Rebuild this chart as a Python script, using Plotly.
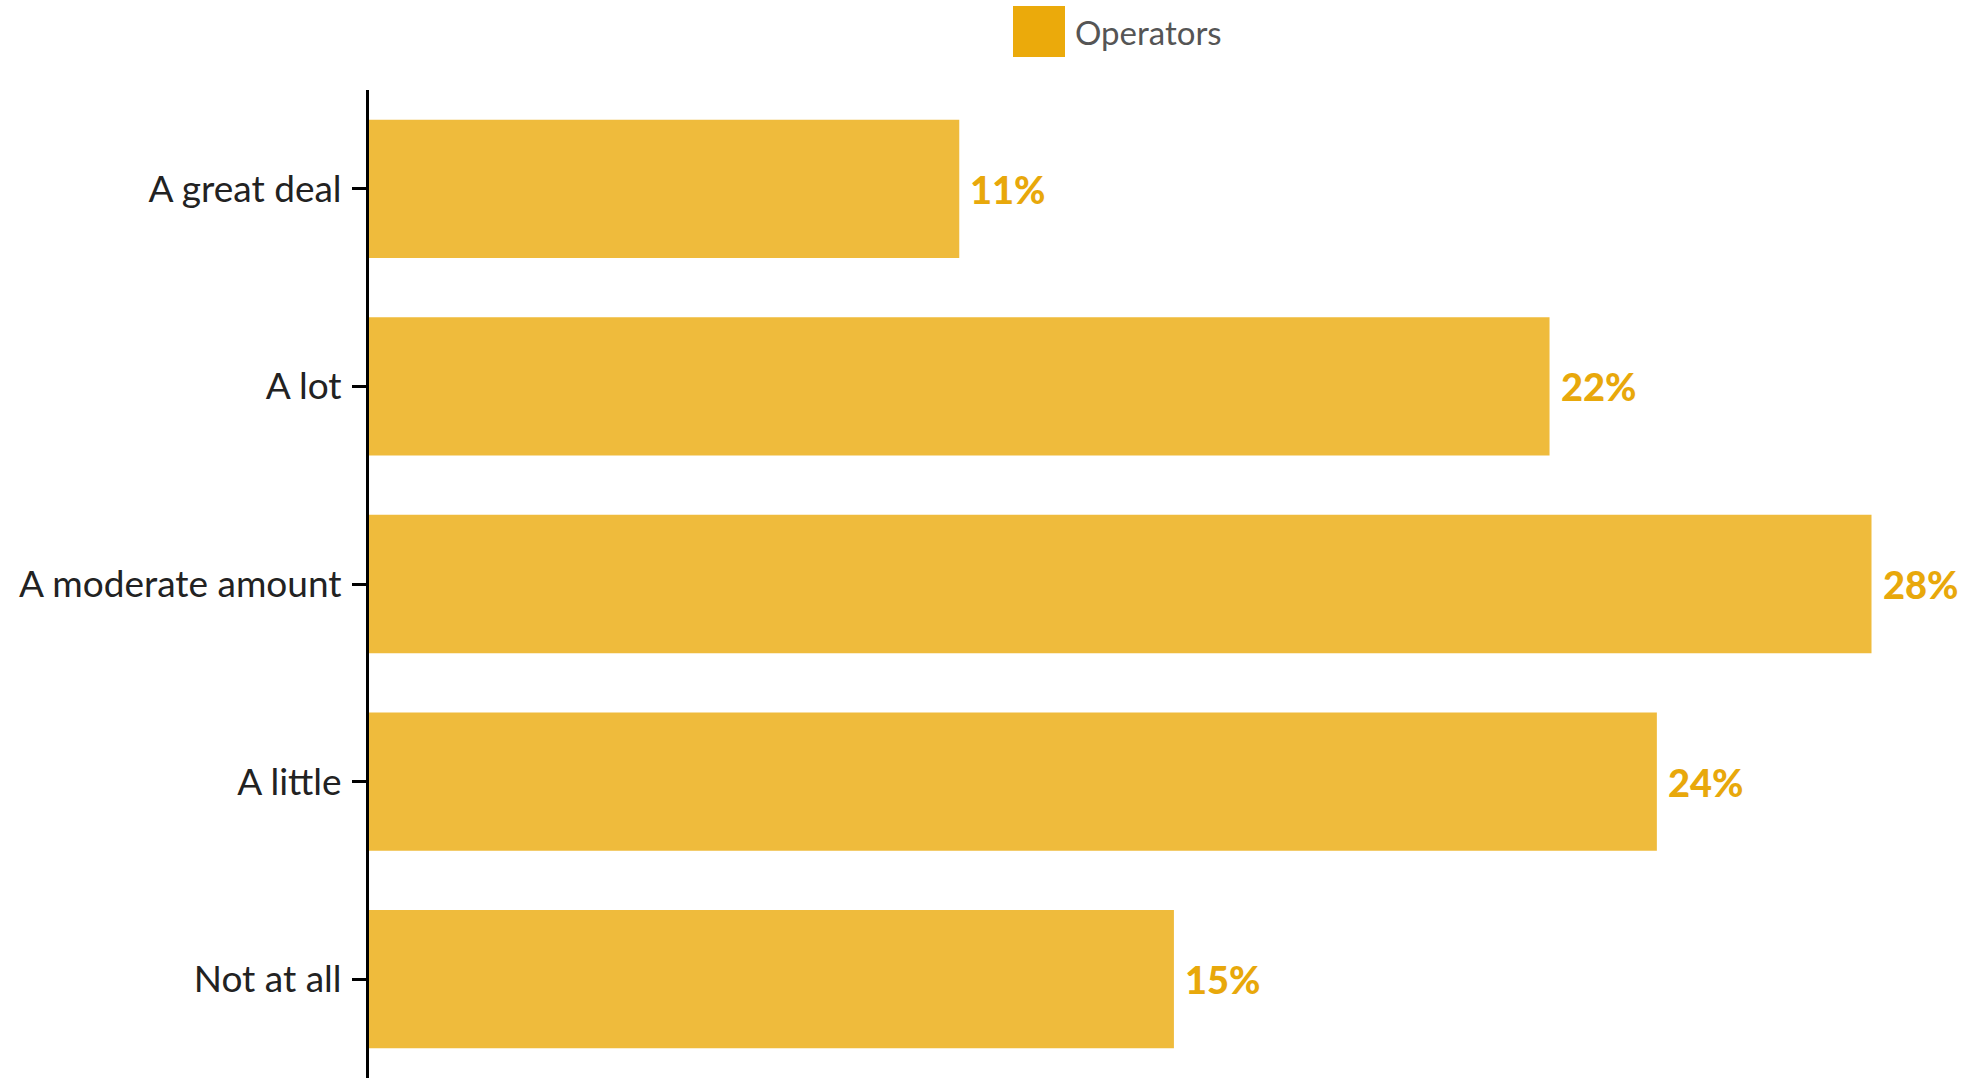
import plotly.graph_objects as go

# Survey responses for the operator group
categories = ["A great deal", "A lot", "A moderate amount", "A little", "Not at all"]
operators = [11, 22, 28, 24, 15]
series_name = "Operators"

BASE = "#EBAA0B"
FONT = "Lato, 'Open Sans', sans-serif"

fig = go.Figure()
fig.add_trace(go.Bar(
    y=categories,
    x=operators,
    orientation="h",
    name=series_name,
    marker=dict(color=BASE, opacity=0.8, line=dict(width=0)),
    showlegend=False,
    hoverinfo="x+y",
))

# value labels just past each bar end
annotations = [
    dict(x=v, y=c, xref="x", yref="y", text=f"{v}%", showarrow=False,
         xanchor="left", yanchor="middle", xshift=9,
         font=dict(family=FONT, size=38, color="#E8A80B", weight=900))
    for c, v in zip(categories, operators)
]

W, H = 1972, 1079
pl, pr, pt, pb = 369, 20, 90, 1
pw, ph = W - pl - pr, H - pt - pb

fig.update_layout(
    width=W, height=H,
    margin=dict(l=pl, r=pr, t=pt, b=pb),
    paper_bgcolor="white", plot_bgcolor="white",
    font=dict(family=FONT, size=37, color="#222222"),
    bargap=0.30,
    showlegend=False,
    annotations=annotations,
)


def px_x(x):
    return (x - pl) / pw


def px_y(y):
    return (H - pb - y) / ph


# legend entry: swatch + series name
fig.add_shape(type="rect", xref="paper", yref="paper",
              x0=px_x(1013), x1=px_x(1065), y0=px_y(57), y1=px_y(6),
              fillcolor=BASE, line=dict(width=0), layer="above")
fig.add_annotation(x=px_x(1073), y=px_y(32), xref="paper", yref="paper",
                   text=series_name, showarrow=False, xanchor="left", yanchor="middle",
                   font=dict(family=FONT, size=33, color="#555555"))

fig.update_yaxes(
    autorange="reversed",
    showline=True, linecolor="black", linewidth=3,
    ticks="outside", ticklen=14, tickwidth=3, tickcolor="black",
    ticklabelstandoff=3,
    showgrid=False, zeroline=False,
    tickfont=dict(family=FONT, size=37, color="#222222"),
)
fig.update_xaxes(
    range=[0, 29.5],
    visible=False, showgrid=False, zeroline=False,
)

fig.write_html("out.html")
